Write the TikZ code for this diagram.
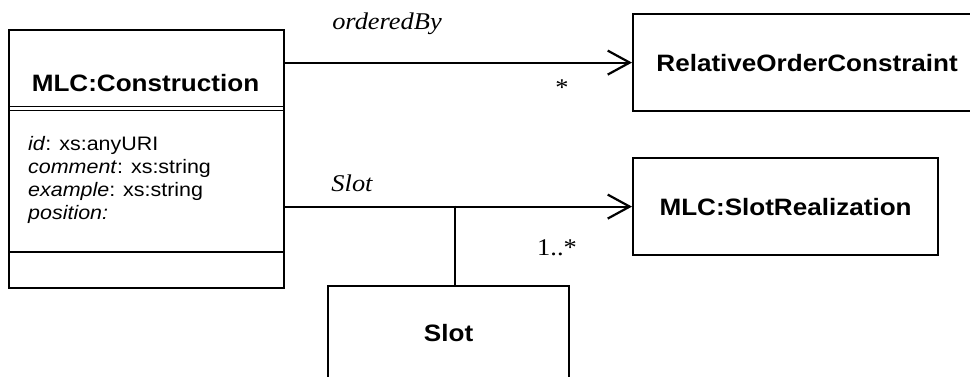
\documentclass[tikz,border=0pt]{standalone}
\usepackage{fontspec}
\setmainfont{Liberation Serif}[FakeStretch=1.1]
\setsansfont{Liberation Sans}[FakeStretch=1.1]
\usetikzlibrary{arrows.meta}

\begin{document}
\begin{tikzpicture}[x=1pt, y=-1pt,
    classbox/.style={draw, line width=2.2pt, rectangle, inner sep=0pt, anchor=north west},
    classname/.style={font=\sffamily\bfseries\fontsize{23.7}{28}\selectfont},
    attrs/.style={font=\sffamily\fontsize{19.5}{23}\selectfont, align=left, inner sep=0pt},
    rolename/.style={font=\itshape\fontsize{24}{28}\selectfont},
    mult/.style={font=\fontsize{24}{28}\selectfont},
    assoc/.style={line width=2.2pt, -{Straight Barb[length=22pt, width=24pt]}}]
    \useasboundingbox (0,0) rectangle (970,376);

    % classes
    \node [classbox, minimum width=275pt, minimum height=258pt] (cons) at (8,29) {};
    \node [classbox, minimum width=348pt, minimum height=97pt] (roc) at (632,13) {};
    \node [classbox, minimum width=305pt, minimum height=97pt] (sr) at (632,157) {};
    \node [classbox, minimum width=241pt, minimum height=94pt] (slot) at (327,285) {};

    \node [classname] (consname) at (145.5,83) {MLC:Construction};
    \node [classname] (rocname) at (roc.center) {RelativeOrderConstraint};
    \node [classname] (srname) at (sr.center) {MLC:SlotRealization};
    \node [classname] (slotname) at (slot.center) {Slot};

    % compartments of MLC:Construction
    \draw [line width=1.6pt] (cons.west |- 0,106.5) -- (cons.east |- 0,106.5);
    \draw [line width=1.6pt] (cons.west |- 0,110.5) -- (cons.east |- 0,110.5);
    \draw [line width=2.2pt] (cons.west |- 0,252) -- (cons.east |- 0,252);
    \node [attrs, anchor=west] (consattr) at (28,180)
      {\textit{id}: xs:anyURI\\ \textit{comment}: xs:string\\
       \textit{example}: xs:string\\ \textit{position:}};

    % associations
    \draw [assoc] (roc.west -| cons.east) -- (roc.west);
    \draw [assoc] (sr.west -| cons.east) -- (sr.west);
    \coordinate (slotjoin) at (455,205.5);
    \draw [line width=2.2pt] (slotjoin) -- (slotjoin |- slot.north);

    \node [rolename] (orderedby) at (387,24) {orderedBy};
    \node [mult] (rocmult) at (562,88) {*};
    \node [rolename] (slotrole) at (352,183) {Slot};
    \node [mult] (srmult) at (557,248) {1..*};
\end{tikzpicture}
\end{document}
